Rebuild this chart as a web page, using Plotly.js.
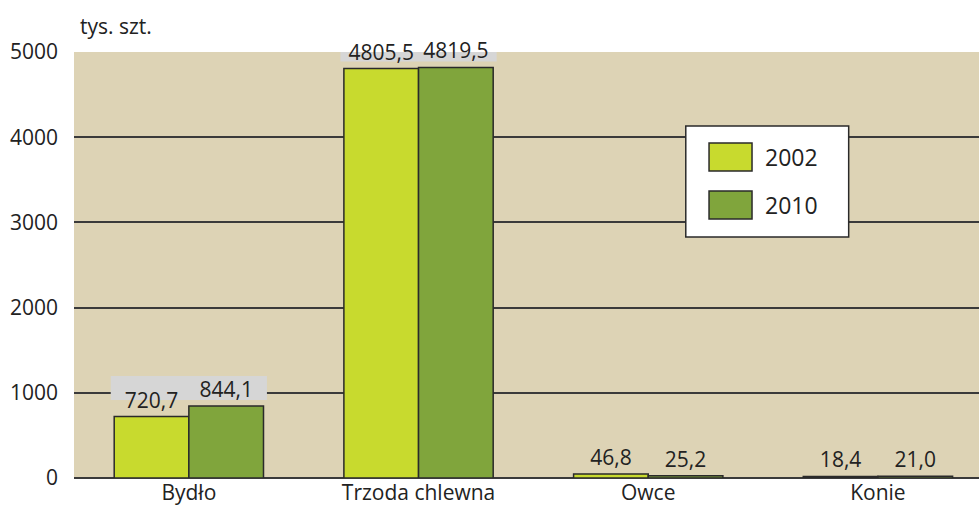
<!DOCTYPE html>
<html><head><meta charset="utf-8">
<script src="https://cdn.plot.ly/plotly-3.0.1.min.js"></script>
<style>body{margin:0;background:#fff}#c{width:979px;height:508px}</style>
</head><body><div id="c"></div>
<script>
const categories = ["Bydło", "Trzoda chlewna", "Owce", "Konie"];
const series2002 = [720.7, 4805.5, 46.8, 18.4];
const series2010 = [844.1, 4819.5, 25.2, 21.0];
const seriesNames = ["2002", "2010"];
const yTicks = [0, 1000, 2000, 3000, 4000, 5000];
const yUnit = "tys. szt.";

const colors = ["#c8da2e", "#80a53c"];
const FONT = "Open Sans, sans-serif";
const fs = 21;

function barTrace(name, vals, color) {
  return {
    type: "bar", name: name, x: categories, y: vals,
    marker: {color: color, line: {color: "#2a2a2a", width: 1.5}},
    texttemplate: "%{y:.1f}", textposition: "outside", cliponaxis: false,
    textfont: {family: FONT, size: fs, color: "#222"},
    hoverinfo: "skip"
  };
}
const data = [barTrace(seriesNames[0], series2002, colors[0]),
              barTrace(seriesNames[1], series2010, colors[1])];

const shapes = [];
categories.forEach((c, i) => {
  const mx = Math.max(series2002[i], series2010[i]);
  if (mx > 500) {
    shapes.push({type: "rect", layer: "between", xref: "x", yref: "y",
      x0: i - 0.34, x1: i + 0.34, ysizemode: "pixel", yanchor: mx, y0: 6, y1: 30,
      fillcolor: "#d6d6d6", line: {width: 0}});
  }
});
// legend box
shapes.push({type: "rect", xref: "paper", yref: "paper", x0: 0.676, x1: 0.856, y0: 0.566, y1: 0.826,
  fillcolor: "#ffffff", line: {color: "#2a2a2a", width: 1.5}, layer: "above"});
const swY = [[0.7207, 0.7864], [0.6080, 0.6737]];
const txY = [0.7535, 0.6408];
const annotations = [{xref: "paper", yref: "paper", x: 0.0044, y: 1.061, xanchor: "left", yanchor: "middle",
  text: yUnit, showarrow: false, font: {family: FONT, size: fs, color: "#222"}}];
seriesNames.forEach((n, k) => {
  shapes.push({type: "rect", xref: "paper", yref: "paper", x0: 0.7017, x1: 0.7492, y0: swY[k][0], y1: swY[k][1],
    fillcolor: colors[k], line: {color: "#2a2a2a", width: 1.5}, layer: "above"});
  annotations.push({xref: "paper", yref: "paper", x: 0.7613, y: txY[k], xanchor: "left", yanchor: "middle",
    text: n, showarrow: false, font: {family: FONT, size: fs + 2, color: "#222"}});
});

const layout = {
  width: 979, height: 508,
  margin: {l: 74, r: 0, t: 52, b: 30, pad: 0},
  paper_bgcolor: "#ffffff", plot_bgcolor: "#ddd3b5",
  showlegend: false, separators: ", ",
  barmode: "group", bargap: 0.35, bargroupgap: 0,
  font: {family: FONT, size: fs, color: "#222"},
  xaxis: {range: [-0.5, 3.44], showgrid: false, zeroline: false, showline: false, ticks: "",
    tickfont: {family: FONT, size: fs, color: "#222"}, fixedrange: true},
  yaxis: {range: [0, 5000], tickvals: yTicks, ticktext: yTicks.map(String), showgrid: true,
    gridcolor: "#3a3a3a", gridwidth: 2, zeroline: true, zerolinecolor: "#3a3a3a", zerolinewidth: 2,
    showline: false, ticks: "", ticklabelstandoff: 15,
    tickfont: {family: FONT, size: fs, color: "#222"}, fixedrange: true},
  shapes: shapes, annotations: annotations
};
Plotly.newPlot("c", data, layout, {displayModeBar: false, staticPlot: true});
</script></body></html>
